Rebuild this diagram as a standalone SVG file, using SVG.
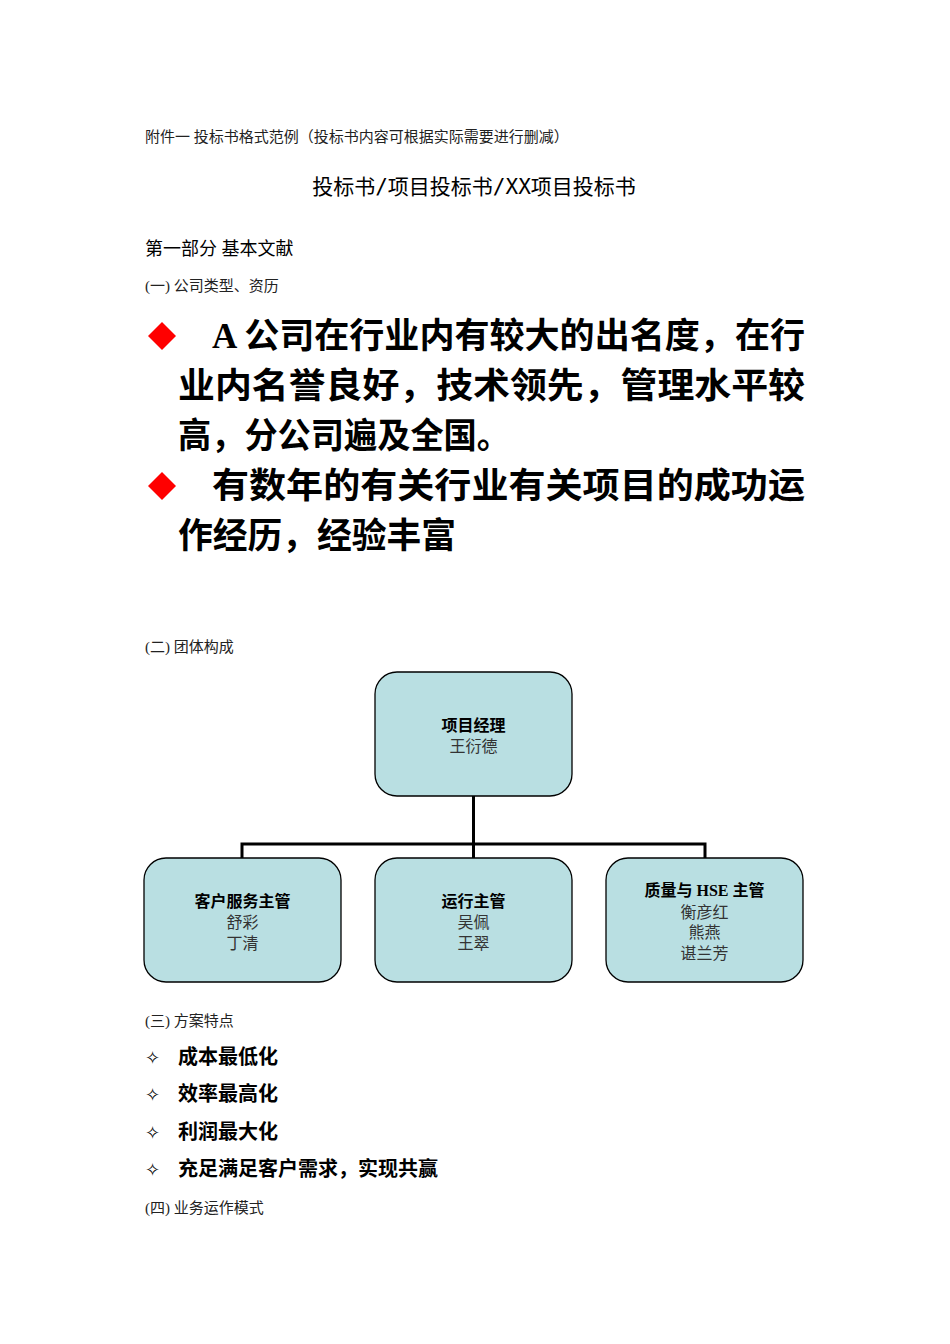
<svg xmlns="http://www.w3.org/2000/svg" width="950" height="1344" viewBox="0 0 950 1344">
<style>
text{font-family:"Liberation Serif","Noto Sans CJK SC",serif;fill:#000}
.s{font-size:15px;fill:#222}
.big{font-size:35px;font-weight:bold}
.b{font-size:20px;font-weight:bold}
.box{fill:#b9dfe2;stroke:#000;stroke-width:1.3}
.nt{font-size:16px;text-anchor:middle;font-weight:bold}
.nn{font-size:16px;text-anchor:middle;fill:#333}
.dia{fill:#f00}
</style>
<rect width="950" height="1344" fill="#fff"/>
<text class="s" x="145" y="142">附件一 投标书格式范例（投标书内容可根据实际需要进行删减）</text>
<text x="474" y="194" text-anchor="middle" style="font-family:'DejaVu Sans Mono','Noto Sans CJK SC',monospace;font-size:21px">投标书/项目投标书/XX项目投标书</text>
<text x="145" y="255" style="font-size:18px">第一部分 基本文献</text>
<text class="s" x="145" y="291">(一) 公司类型、资历</text>
<polygon class="dia" points="162,322 176,336 162,350 148,336"/>
<text class="big" x="212" y="348" textLength="593" lengthAdjust="spacingAndGlyphs">A 公司在行业内有较大的出名度，在行</text>
<text class="big" x="178" y="398" textLength="627" lengthAdjust="spacingAndGlyphs">业内名誉良好，技术领先，管理水平较</text>
<text class="big" x="178" y="448" textLength="332" lengthAdjust="spacingAndGlyphs">高，分公司遍及全国。</text>
<polygon class="dia" points="162,472 176,486 162,500 148,486"/>
<text class="big" x="212" y="498" textLength="593" lengthAdjust="spacingAndGlyphs">有数年的有关行业有关项目的成功运</text>
<text class="big" x="178" y="548" textLength="278" lengthAdjust="spacingAndGlyphs">作经历，经验丰富</text>
<text class="s" x="145" y="652">(二) 团体构成</text>
<g id="connectors" fill="none" stroke="#000" stroke-width="3">
<path d="M473.5,796 V844 M242,858 V844 H705 V858 M473.5,844 V858"/>
</g>
<g id="n-pm"><rect class="box" x="375" y="672" width="197" height="124" rx="22"/>
<text class="nt" x="473.5" y="731">项目经理</text><text class="nn" x="473.5" y="752">王衍德</text></g>
<g id="n-cs"><rect class="box" x="144" y="858" width="197" height="124" rx="22"/>
<text class="nt" x="242.5" y="907">客户服务主管</text><text class="nn" x="242.5" y="928">舒彩</text><text class="nn" x="242.5" y="949">丁清</text></g>
<g id="n-op"><rect class="box" x="375" y="858" width="197" height="124" rx="22"/>
<text class="nt" x="473.5" y="907">运行主管</text><text class="nn" x="473.5" y="928">吴佩</text><text class="nn" x="473.5" y="949">王翠</text></g>
<g id="n-q"><rect class="box" x="606" y="858" width="197" height="124" rx="22"/>
<text class="nt" x="704.5" y="896">质量与 HSE 主管</text><text class="nn" x="704.5" y="918">衡彦红</text><text class="nn" x="704.5" y="938">熊燕</text><text class="nn" x="704.5" y="959">谌兰芳</text></g>
<text class="s" x="145" y="1026">(三) 方案特点</text>
<g font-size="20">
<text x="145" y="1064" style="font-family:'DejaVu Sans',sans-serif;font-size:18px">✧</text>
<text class="b" x="178" y="1064">成本最低化</text>
<text x="145" y="1101" style="font-family:'DejaVu Sans',sans-serif;font-size:18px">✧</text>
<text class="b" x="178" y="1101">效率最高化</text>
<text x="145" y="1139" style="font-family:'DejaVu Sans',sans-serif;font-size:18px">✧</text>
<text class="b" x="178" y="1139">利润最大化</text>
<text x="145" y="1176" style="font-family:'DejaVu Sans',sans-serif;font-size:18px">✧</text>
<text class="b" x="178" y="1176">充足满足客户需求，实现共赢</text>
</g>
<text class="s" x="145" y="1213">(四) 业务运作模式</text>
</svg>
